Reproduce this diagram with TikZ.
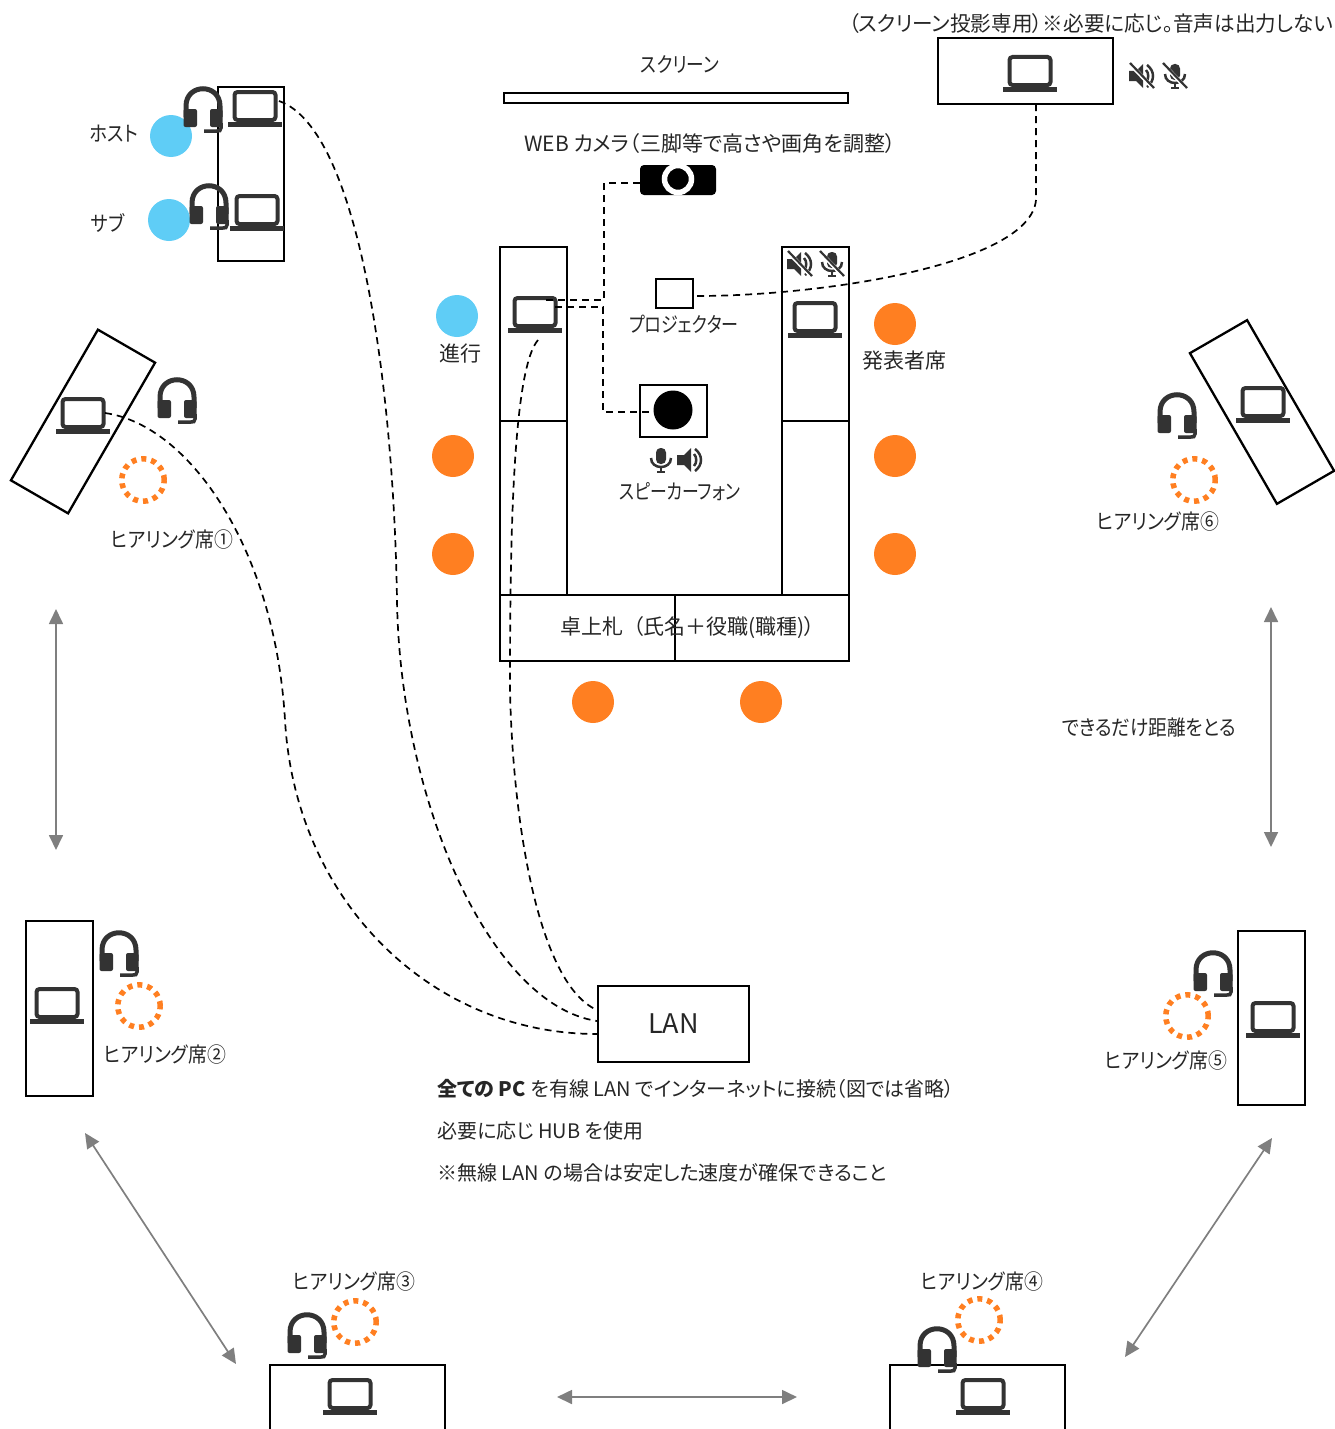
\documentclass[tikz,border=0pt]{standalone}
\usepackage{fontspec}
\setmainfont[RawFeature=+palt]{Noto Sans CJK JP}
\usetikzlibrary{arrows.meta}
\definecolor{icongray}{HTML}{333333}
\definecolor{seatblue}{HTML}{5FCDF6}
\definecolor{seatorange}{HTML}{FF7F21}
\definecolor{arrowgray}{HTML}{7F7F7F}
\newcommand{\squeeze}[2]{\scalebox{#1}[1]{#2}}
\tikzset{
    tablebox/.style={draw=black, line width=2.3pt, fill=none, inner sep=0pt},
    lbl/.style={font=\fontsize{21}{25}\selectfont, text=black!85, inner sep=0pt, yshift=-0.7pt},
    notelbl/.style={font=\fontsize{20}{24}\selectfont, text=black!85, inner sep=0pt, anchor=west, yshift=-0.7pt},
    hostseat/.style={circle, fill=seatblue, minimum size=42pt, inner sep=0pt},
    talkseat/.style={circle, fill=seatorange, minimum size=42pt, inner sep=0pt},
    hearseat/.style={circle, draw=seatorange, line width=5.5pt, dash pattern=on 5pt off 5pt, minimum size=42.5pt, inner sep=0pt},
    wire/.style={black, line width=1.7pt, dash pattern=on 7pt off 5pt},
    gaparrow/.style={arrowgray, line width=1.7pt, {Triangle[length=15pt,width=14pt]}-{Triangle[length=15pt,width=14pt]}},
    pics/laptop/.style={code={
        \draw[icongray, line width=4pt, rounded corners=3pt] (-20.5,-30) rectangle (20.5,-2);
        \fill[icongray] (-27,0) rectangle (27,5);
    }},
    pics/headset/.style={code={
        \draw[icongray, line width=5pt] (-17,10) -- (-17,-1) .. controls (-17,-24) and (17,-24) .. (17,-1) -- (17,10);
        \fill[icongray, rounded corners=2pt] (-19.5,2) rectangle (-6,20);
        \fill[icongray, rounded corners=2pt] (7,2) rectangle (19.5,20);
        \draw[icongray, line width=3.5pt] (18,16) -- (18,21) .. controls (18,24) and (16,24) .. (14,24) -- (1,24);
    }},
    pics/speakericon/.style={code={
        \fill[icongray] (-13,-5) -- (-6,-5) -- (1,-12) -- (1,12) -- (-6,5) -- (-13,5) -- cycle;
        \draw[icongray, line width=2.5pt] (4,-6) .. controls (7,-3) and (7,3) .. (4,6);
        \draw[icongray, line width=2.5pt] (5,-11) .. controls (13,-5) and (13,5) .. (5,11);
    }},
    pics/micicon/.style={code={
        \fill[icongray, rounded corners=4.5pt] (-5,-12) rectangle (5,4);
        \draw[icongray, line width=2.5pt] (-10,-2) .. controls (-10,10) and (10,10) .. (10,-2);
        \draw[icongray, line width=2.5pt] (0,7) -- (0,12) (-4,12) -- (4,12);
    }},
    pics/muteslash/.style={code={
        \draw[white, line width=4pt] (-11,-11) -- (12,13);
        \draw[icongray, line width=2.2pt] (-12,-13) -- (12,12);
    }},
}
\begin{document}
\begin{tikzpicture}[x=1pt,y=-1pt]
    \clip (0,0) rectangle (1335,1429);
    % front of the room
    \node[tablebox, minimum width=344pt, minimum height=10pt] (screen) at (676,98) {};
    \node[lbl] (screenlbl) at (680,64) {\squeeze{.84}{スクリーン}};
    \node[tablebox, minimum width=175pt, minimum height=66pt] (projpc) at (1025.5,71) {};
    \node[lbl] (projpclbl) at (1091,23) {\squeeze{.98}{（スクリーン投影専用）※必要に応じ。音声は出力しない}};
    \node[lbl] (cameralbl) at (710,143) {WEB カメラ（三脚等で高さや画角を調整）};
    \node[fill=black, rounded corners=4pt, minimum width=76pt, minimum height=30pt, inner sep=0pt] (camera) at (678,180) {};
    \node[circle, draw=white, fill=black, line width=5.5pt, minimum size=27pt, inner sep=0pt] (lens) at (678,179) {};
    % conference tables
    \node[tablebox, minimum width=67pt, minimum height=174pt] (tableLa) at (533.5,334) {};
    \node[tablebox, minimum width=67pt, minimum height=174pt] (tableLb) at (533.5,508) {};
    \node[tablebox, minimum width=67pt, minimum height=174pt] (tableRa) at (815.5,334) {};
    \node[tablebox, minimum width=67pt, minimum height=174pt] (tableRb) at (815.5,508) {};
    \node[tablebox, minimum width=175pt, minimum height=66pt] (tableBa) at (587.5,628) {};
    \node[tablebox, minimum width=174pt, minimum height=66pt] (tableBb) at (762,628) {};
    \node[lbl] (namecard) at (688,627) {卓上札\hspace{9pt}（氏名＋役職(職種)）\hspace{9pt}};
    \node[tablebox, minimum width=37pt, minimum height=29pt] (projector) at (674.5,293.5) {};
    \node[lbl] (projectorlbl) at (684,324) {\squeeze{.81}{プロジェクター}};
    \node[tablebox, minimum width=67pt, minimum height=52pt] (phonebox) at (673.5,411) {};
    \node[circle, fill=black, minimum size=39pt, inner sep=0pt] (phone) at (673,410) {};
    \node[lbl] (phonelbl) at (680,491) {\squeeze{.8}{スピーカーフォン}};
    % seats
    \node[hostseat] (seatHost) at (171,136) {};
    \node[hostseat] (seatSub) at (169,220) {};
    \node[hostseat] (seatChair) at (457,316) {};
    \foreach \n/\x/\y in {a/895/324,b/453/456,c/453/554,d/895/456,e/895/554,f/593/702,g/761/702} {
        \node[talkseat] (seat\n) at (\x,\y) {};
    }
    \foreach \n/\x/\y in {1/143/480,2/139/1006,3/355/1322,4/979/1320,5/1187/1016,6/1194/480} {
        \node[hearseat] (hear\n) at (\x,\y) {};
    }
    \node[lbl] (hostlbl) at (114,133) {\squeeze{.87}{ホスト}};
    \node[lbl] (sublbl) at (108,222) {\squeeze{.87}{サブ}};
    \node[lbl] (chairlbl) at (460,353) {進行};
    \node[lbl] (talklbl) at (904,360) {発表者席};
    % side tables
    \node[tablebox, minimum width=66pt, minimum height=174pt] (tableHost) at (251,174) {};
    \node[tablebox, minimum width=66pt, minimum height=174pt, rotate=-30] (tableA) at (83,421.5) {};
    \node[tablebox, minimum width=67pt, minimum height=175pt] (tableB) at (59.5,1008.5) {};
    \node[tablebox, minimum width=175pt, minimum height=130pt] (tableC) at (357.5,1430) {};
    \node[tablebox, minimum width=175pt, minimum height=130pt] (tableD) at (977.5,1430) {};
    \node[tablebox, minimum width=67pt, minimum height=174pt] (tableE) at (1271.5,1018) {};
    \node[tablebox, minimum width=66pt, minimum height=174pt, rotate=30] (tableF) at (1262,412) {};
    \node[lbl] (hearlblA) at (172,539) {\squeeze{.9}{ヒアリング席①}};
    \node[lbl] (hearlblB) at (165,1054) {\squeeze{.9}{ヒアリング席②}};
    \node[lbl] (hearlblC) at (354,1281) {\squeeze{.9}{ヒアリング席③}};
    \node[lbl] (hearlblD) at (982,1281) {\squeeze{.9}{ヒアリング席④}};
    \node[lbl] (hearlblE) at (1166,1060) {\squeeze{.9}{ヒアリング席⑤}};
    \node[lbl] (hearlblF) at (1158,521) {\squeeze{.9}{ヒアリング席⑥}};
    % laptops and headsets
    \foreach \x/\y in {255/122,257/226,535/328,815/333,1030/87,83/429,1263/418,57/1019,1273/1033,350/1410,983/1410} {
        \pic at (\x,\y) {laptop};
    }
    \foreach \x/\y in {203/107,209/204,177/398,1177/413,119/951,1213/971,307/1333,937/1347} {
        \pic at (\x,\y) {headset};
    }
    % audio icons
    \pic at (1142,76) {speakericon};
    \pic at (1142,76) {muteslash};
    \pic at (1175,76) {micicon};
    \pic at (1175,76) {muteslash};
    \pic at (800,264) {speakericon};
    \pic at (800,264) {muteslash};
    \pic at (832,264) {micicon};
    \pic at (832,264) {muteslash};
    \pic at (661,460) {micicon};
    \pic at (690,460) {speakericon};
    % LAN box and notes
    \node[tablebox, minimum width=151pt, minimum height=76pt, font=\fontsize{27}{32}\selectfont, text=black!85] (lan) at (673.5,1024) {LAN};
    \node[notelbl] (noteA) at (437,1088) {\textbf{全ての PC} を有線 LAN でインターネットに接続（図では省略）};
    \node[notelbl] (noteB) at (437,1130) {必要に応じ HUB を使用};
    \node[notelbl] (noteC) at (437,1172) {※無線 LAN の場合は安定した速度が確保できること};
    \node[lbl] (distlbl) at (1149,727) {\squeeze{.887}{できるだけ距離をとる}};
    % wires
    \coordinate (pcHost) at (279,101);
    \coordinate (pcChairA) at (546,300);
    \coordinate (pcChairB) at (555,307);
    \coordinate (pcChairC) at (538,340);
    \coordinate (pcHearA) at (105,413);
    \coordinate (pcProj) at (1036,104);
    \coordinate (lanA) at (597,1010);
    \coordinate (lanB) at (597,1021);
    \coordinate (lanC) at (597,1034);
    \coordinate (projIn) at (697,296);
    \draw[wire] (pcHost) .. controls (362,130) and (394,400) .. (397,600) .. controls (400,800) and (490,1005) .. (lanB);
    \draw[wire] (pcChairC) .. controls (512,370) and (510,550) .. (510,690) .. controls (513,830) and (540,985) .. (lanA);
    \draw[wire] (pcHearA) .. controls (190,425) and (275,550) .. (285,720) .. controls (295,900) and (430,1034) .. (lanC);
    \draw[wire] (pcProj) -- (1036,200) .. controls (1030,265) and (820,296) .. (projIn);
    \draw[wire] (camera.west |- 0,183) -- (604,183) -- (604,300) -- (pcChairA);
    \draw[wire] (pcChairB) -- (603,307) -- (603,412) -- (phone.west |- 0,412);
    % distance arrows
    \coordinate (gapAa) at (56,609);
    \coordinate (gapAb) at (56,850);
    \coordinate (gapBa) at (85,1133);
    \coordinate (gapBb) at (236,1364);
    \coordinate (gapCa) at (557,1397);
    \coordinate (gapCb) at (797,1397);
    \coordinate (gapDa) at (1125,1357);
    \coordinate (gapDb) at (1272,1138);
    \coordinate (gapEa) at (1271,847);
    \coordinate (gapEb) at (1271,607);
    \draw[gaparrow] (gapAa) -- (gapAb);
    \draw[gaparrow] (gapBa) -- (gapBb);
    \draw[gaparrow] (gapCa) -- (gapCb);
    \draw[gaparrow] (gapDa) -- (gapDb);
    \draw[gaparrow] (gapEa) -- (gapEb);
\end{tikzpicture}
\end{document}
